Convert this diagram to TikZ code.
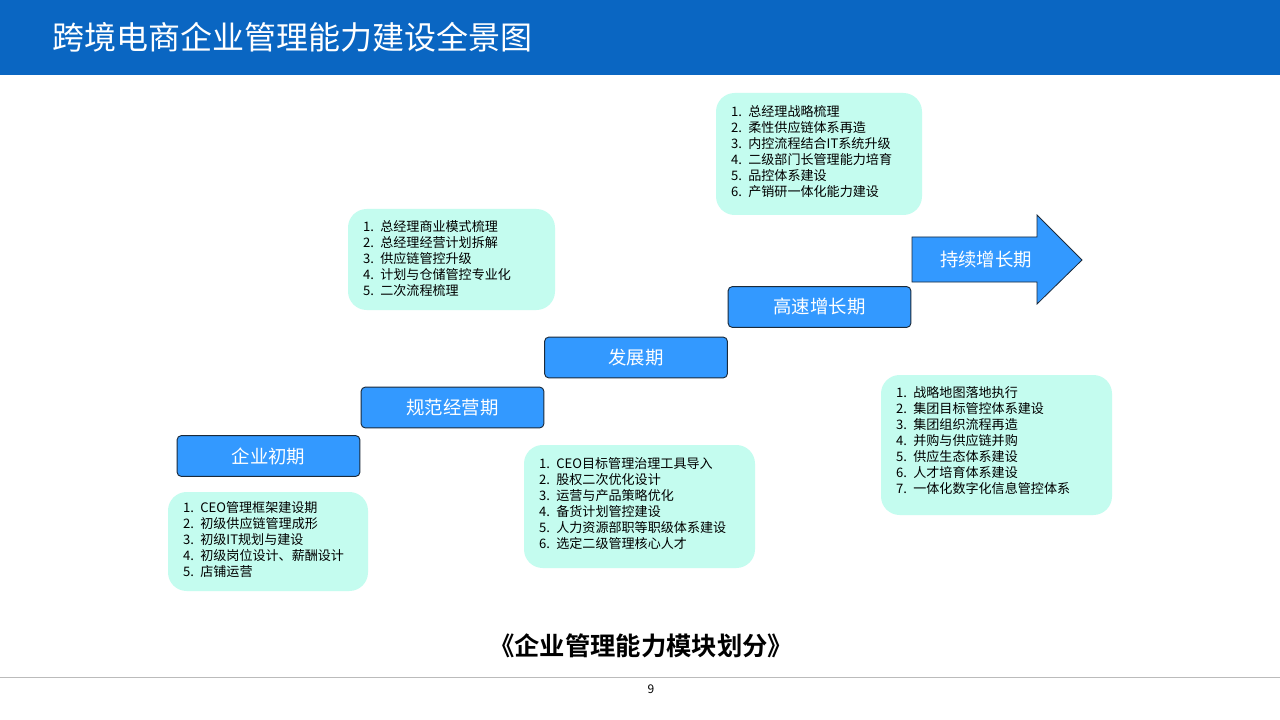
\documentclass[tikz,border=0pt]{standalone}
\usepackage{fontspec}
\setmainfont{Noto Sans CJK SC}
\newfontfamily\cjkb{Noto Sans CJK SC Bold}
\definecolor{hdrblue}{HTML}{0A66C2}
\definecolor{stageblue}{HTML}{3399FF}
\definecolor{stageedge}{HTML}{1B2A3A}
\definecolor{mint}{HTML}{C4FCEF}
\definecolor{rulegray}{HTML}{BBBBBB}
\newcommand{\itm}[2]{\makebox[13pt][l]{#1.}#2}
\tikzset{
  stagebox/.style={draw=stageedge, line width=0.7pt, fill=stageblue, rounded corners=3pt,
    minimum width=137pt, minimum height=30.5pt, inner sep=0pt, text=white,
    font=\fontsize{13.8}{16}\selectfont},
  listbox/.style={fill=mint, draw=none, rounded corners=14pt, inner sep=0pt},
  listtext/.style={anchor=west, align=left, inner sep=0pt,
    font=\fontsize{9.8}{12}\selectfont, text=black},
}
\begin{document}
\begin{tikzpicture}[x=0.75pt,y=-0.75pt]
\useasboundingbox (0,0) rectangle (1280,720);
\fill[white] (0,0) rectangle (1280,720);
% header
\node[fill=hdrblue, minimum width=960pt, minimum height=56.25pt, inner sep=0pt, anchor=north west] (hdr) at (0,0) {};
\node[anchor=west, text=white, inner sep=0pt, font=\fontsize{24}{28}\selectfont] (title) at (52,37) {跨境电商企业管理能力建设全景图};

% stage boxes
\node[stagebox] (s1) at (268.5,456) {企业初期};
\node[stagebox] (s2) at (452.5,407.5) {规范经营期};
\node[stagebox] (s3) at (636,357.5) {发展期};
\node[stagebox] (s4) at (819.5,307) {高速增长期};

% arrow
\draw[draw=stageedge, line width=0.6pt, fill=stageblue]
  (912,237) -- (1037,237) -- (1037,215) -- (1082,260) -- (1037,304) -- (1037,282) -- (912,282) -- cycle;
\node[text=white, inner sep=0pt, font=\fontsize{13.8}{16}\selectfont] (s5) at (986,260) {持续增长期};

% list boxes
\node[listbox, minimum width=150pt, minimum height=74.25pt] (b1) at (268,541.5) {};
\node[listtext] (t1) at ([xshift=11.25pt,yshift=1.2pt]b1.west) {%
\itm{1}{CEO管理框架建设期}\\
\itm{2}{初级供应链管理成形}\\
\itm{3}{初级IT规划与建设}\\
\itm{4}{初级岗位设计、薪酬设计}\\
\itm{5}{店铺运营}};

\node[listbox, minimum width=155.25pt, minimum height=75.75pt] (b2) at (451.5,259.5) {};
\node[listtext] (t2) at ([xshift=11.25pt,yshift=0.4pt]b2.west) {%
\itm{1}{总经理商业模式梳理}\\
\itm{2}{总经理经营计划拆解}\\
\itm{3}{供应链管控升级}\\
\itm{4}{计划与仓储管控专业化}\\
\itm{5}{二次流程梳理}};

\node[listbox, minimum width=173.25pt, minimum height=92.25pt] (b3) at (639.5,506.5) {};
\node[listtext] (t3) at ([xshift=11.25pt,yshift=1.9pt]b3.west) {%
\itm{1}{CEO目标管理治理工具导入}\\
\itm{2}{股权二次优化设计}\\
\itm{3}{运营与产品策略优化}\\
\itm{4}{备货计划管控建设}\\
\itm{5}{人力资源部职等职级体系建设}\\
\itm{6}{选定二级管理核心人才}};

\node[listbox, minimum width=154.5pt, minimum height=91.5pt] (b4) at (819,154) {};
\node[listtext] (t4) at ([xshift=11.25pt,yshift=2.2pt]b4.west) {%
\itm{1}{总经理战略梳理}\\
\itm{2}{柔性供应链体系再造}\\
\itm{3}{内控流程结合IT系统升级}\\
\itm{4}{二级部门长管理能力培育}\\
\itm{5}{品控体系建设}\\
\itm{6}{产销研一体化能力建设}};

\node[listbox, minimum width=173.25pt, minimum height=105pt] (b5) at (996.5,445) {};
\node[listtext] (t5) at ([xshift=11.25pt,yshift=3pt]b5.west) {%
\itm{1}{战略地图落地执行}\\
\itm{2}{集团目标管控体系建设}\\
\itm{3}{集团组织流程再造}\\
\itm{4}{并购与供应链并购}\\
\itm{5}{供应生态体系建设}\\
\itm{6}{人才培育体系建设}\\
\itm{7}{一体化数字化信息管控体系}};

% caption
\node[inner sep=0pt, font=\cjkb\fontsize{19}{22}\selectfont] (cap) at (641,646) {《企业管理能力模块划分》};
\coordinate (rl) at (0,677);
\coordinate (rr) at (1280,677);
\draw[rulegray, line width=0.75pt] (rl) -- (rr);
\node[inner sep=0pt, font=\fontsize{9}{10}\selectfont] (pg) at (651,689) {9};
\end{tikzpicture}
\end{document}
